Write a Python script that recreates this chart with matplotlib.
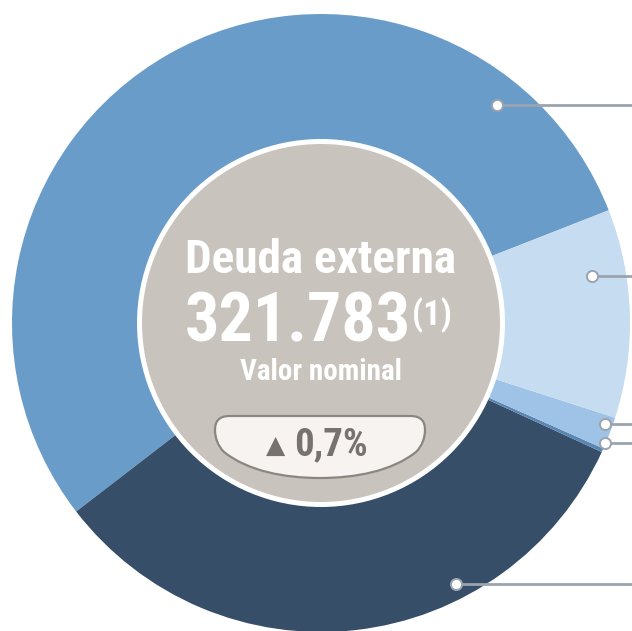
import matplotlib

matplotlib.use("Agg")
import matplotlib.pyplot as plt
from matplotlib.patches import Circle, PathPatch
from matplotlib.path import Path

# shares of external debt by segment (%), counter-clockwise from the top-right
SHARES = [54.5, 32.7, 0.2, 1.7, 10.9]
SEG_COLORS = ["#6A9CCA", "#364E68", "#5A86B3", "#9FC3E6", "#C6DCF0"]
TOTAL = "321.783"
NOTE = "(1)"
TITLE = "Deuda externa"
SUBTITLE = "Valor nominal"
CHANGE = "0,7%"

W, H = 632, 631
CX, CY = 321, 323          # pixel coords, y from top
R_OUT, R_IN, R_CORE = 309, 184, 179
# leader markers (x, y) in pixels, one per segment
LEADERS = [(497, 105), (456, 584), (605, 443), (605, 424), (592, 276)]

FONT = ["Roboto Condensed", "DejaVu Sans"]


def py(y):
    return H - y


fig = plt.figure(figsize=(W / 100, H / 100), dpi=100)
ax = fig.add_axes([0, 0, 1, 1])

ax.pie(
    SHARES, colors=SEG_COLORS, startangle=21.4, counterclock=True,
    radius=R_OUT, center=(CX, py(CY)), wedgeprops=dict(linewidth=0),
)
ax.add_patch(Circle((CX, py(CY)), R_IN, color="white", lw=0, zorder=3))
ax.add_patch(Circle((CX, py(CY)), R_CORE, color="#C9C3BE", lw=0, zorder=4))

# leader lines
for x, y in LEADERS:
    ax.plot([x, W + 5], [py(y), py(y)], color="#9BA4AE", lw=2, zorder=5,
            solid_capstyle="butt")
    ax.plot(x, py(y), "o", ms=8, mfc="white", mec="#9BA4AE", mew=1.4, zorder=6)

# centre texts
ax.text(CX, py(273), TITLE, ha="center", va="baseline", color="white",
        fontsize=34, fontweight="bold", family=FONT, zorder=7)
ax.text(411, py(342), TOTAL, ha="right", va="baseline", color="white",
        fontsize=49, fontweight="bold", family=FONT, zorder=7)
ax.text(412, py(325), NOTE, ha="left", va="baseline", color="white",
        fontsize=25, fontweight="bold", family=FONT, zorder=7)
ax.text(CX, py(380), SUBTITLE, ha="center", va="baseline", color="white",
        fontsize=21, fontweight="bold", family=FONT, zorder=7)

# badge
pts = [
    (230, 416), (410, 416),
    (421, 416), (425, 421), (425, 430),
    (425, 438), (422, 446), (416, 452),
    (392, 471), (356, 478), (320, 478),
    (284, 478), (248, 471), (224, 452),
    (218, 446), (215, 438), (215, 430),
    (215, 421), (219, 416), (230, 416),
    (230, 416),
]
codes = [Path.MOVETO, Path.LINETO] + [Path.CURVE4] * 18 + [Path.CLOSEPOLY]
badge = Path([(x, py(y)) for x, y in pts], codes)
ax.add_patch(PathPatch(badge, facecolor="#F6F3F1", edgecolor="#8B8680",
                       lw=1.6, zorder=7))
ax.text(276, py(453), "\u25B2", ha="center", va="baseline", color="#77726D",
        fontsize=18, family=["DejaVu Sans"], zorder=8)
ax.text(294, py(455), CHANGE, ha="left", va="baseline", color="#77726D",
        fontsize=28, fontweight="bold", family=FONT, zorder=8)

ax.set_xlim(0, W)
ax.set_ylim(0, H)
ax.set_aspect("equal")
ax.axis("off")

fig.savefig("out.png", dpi=100)
